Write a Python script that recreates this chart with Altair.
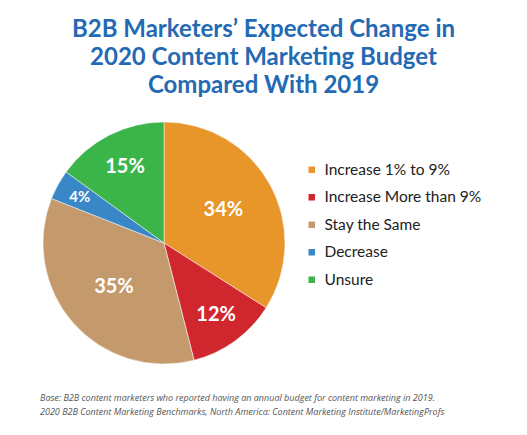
import altair as alt
import pandas as pd
import math

categories = ["Increase 1% to 9%", "Increase More than 9%", "Stay the Same", "Decrease", "Unsure"]
values = [34, 12, 35, 4, 15]
labels = ["34%", "12%", "35%", "4%", "15%"]
colors = ["#E8952A", "#D0262E", "#C49A6C", "#3A87C8", "#3BB54A"]

title_lines = ["B2B Marketers’ Expected Change in",
               "2020 Content Marketing Budget",
               "Compared With 2019"]
note_lines = ["Base: B2B content marketers who reported having an annual budget for content marketing in 2019.",
              "2020 B2B Content Marketing Benchmarks, North America: Content Marketing Institute/MarketingProfs"]

df = pd.DataFrame({"category": categories, "value": values, "label": labels,
                   "idx": list(range(len(categories)))})

CX, CY = 156, 135
theta_scale = alt.Scale(domain=[0, 100], range=[0, 2 * math.pi])

arcs = alt.Chart(df).mark_arc(outerRadius=121, stroke="white", strokeWidth=0.5).encode(
    theta=alt.Theta("value:Q", stack=True, scale=theta_scale),
    order=alt.Order("idx:Q"),
    x=alt.value(CX), y=alt.value(CY),
    color=alt.Color("category:N",
                    scale=alt.Scale(domain=categories, range=colors),
                    legend=alt.Legend(title=None, orient="none", legendX=296, legendY=54,
                                      symbolType="square", symbolSize=64,
                                      labelFont="Lato", labelFontSize=15.5, labelColor="#222222",
                                      rowPadding=10.5, labelOffset=5, labelLimit=300)),
)

texts = alt.Chart(df).transform_window(
    cum="sum(value)", sort=[alt.SortField("idx")], frame=[None, 0]
).transform_calculate(
    mid="datum.cum - datum.value / 2",
    r="100 - datum.value * 0.95",
).mark_text(font="Lato", fontWeight="bold", color="white").encode(
    theta=alt.Theta("mid:Q", stack=None, scale=theta_scale),
    x=alt.value(CX), y=alt.value(CY),
    radius=alt.Radius("r:Q", scale=None),
    text="label:N",
    size=alt.condition("datum.value < 5", alt.value(15), alt.value(20)),
)

note = alt.Chart(pd.DataFrame({"k": [0]})).mark_text(
    text=note_lines, font="Open Sans", fontStyle="italic", fontSize=9, color="#555555",
    align="left", baseline="middle", lineHeight=14,
).encode(x=alt.value(32), y=alt.value(290))

chart = alt.layer(arcs, texts, note).properties(
    width=511, height=315,
    padding={"top": 10, "left": 0, "right": 0, "bottom": 0},
    title=alt.TitleParams(text=title_lines, font="Lato", fontSize=24, fontWeight="bold",
                          color="#2469B3", lineHeight=28, anchor="middle", offset=10),
).configure_view(stroke=None)

chart.save("out.html", embed_options={"renderer": "svg", "actions": False})
